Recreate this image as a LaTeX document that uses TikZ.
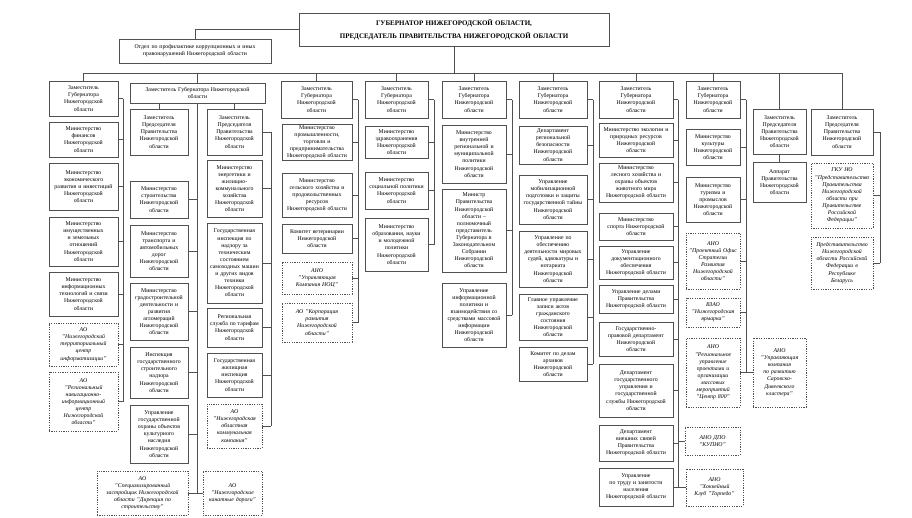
\documentclass[tikz,border=0pt]{standalone}
\usepackage{fontspec}
\setmainfont{Liberation Serif}
\definecolor{linec}{HTML}{505050}
\newcommand\bx[7][sbox]{%
  \pgfmathsetmacro\bxw{#5-#3}%
  \pgfmathsetmacro\bxh{#6-#4}%
  \pgfmathsetmacro\bxt{#5-#3-3}%
  \node[#1, minimum width=\bxw pt, minimum height=\bxh pt, text width=\bxt pt] (#2) at ({(#3+#5)/2},{(#4+#6)/2}) {#7};}
\tikzset{
  sbox/.style={draw=linec, line width=0.8pt, fill=white, align=center, inner sep=1pt, font=\fontsize{5.8}{7.1}\selectfont},
  dbox/.style={sbox, line width=0.9pt, dash pattern=on 1.2pt off 1.2pt, font=\fontsize{5.8}{7.1}\selectfont\itshape},
  conn/.style={draw=linec, line width=0.8pt},
}
\begin{document}
\begin{tikzpicture}[x=1pt,y=-1pt]
\fill[white] (0,0) rectangle (912,517);
\useasboundingbox (0,0) rectangle (912,517);

% top
\bx[sbox, font=\fontsize{7}{13}\selectfont\bfseries]{gov}{299}{13}{609}{46}{ГУБЕРНАТОР НИЖЕГОРОДСКОЙ ОБЛАСТИ,\\ПРЕДСЕДАТЕЛЬ ПРАВИТЕЛЬСТВА НИЖЕГОРОДСКОЙ ОБЛАСТИ}
\bx{anti}{119}{39}{271}{63}{Отдел по профилактике коррупционных и иных\\правонарушений Нижегородской области}

% column 1
\bx{c1h}{49}{81}{118}{116}{Заместитель\\Губернатора\\Нижегородской\\области}
\bx{c1b2}{49}{122}{118}{157}{Министерство\\финансов\\Нижегородской\\области}
\bx{c1b3}{49}{163}{118}{210}{Министерство\\экономического\\развития и инвестиций\\Нижегородской\\области}
\bx{c1b4}{49}{217}{118}{266}{Министерство\\имущественных\\и земельных\\отношений\\Нижегородской\\области}
\bx{c1b5}{49}{272}{118}{316}{Министерство\\информационных\\технологий и связи\\Нижегородской\\области}
\bx[dbox]{c1d1}{49}{323}{118}{366}{АО\\"Нижегородский\\территориальный\\центр\\информатизации"}
\bx[dbox]{c1d2}{49}{372}{118}{431}{АО\\"Региональный\\навигационно-\\информационный\\центр\\Нижегородской\\области"}

% column 2
\bx{c2}{130}{83}{265}{103}{Заместитель Губернатора Нижегородской\\области}
\bx{c2a}{130}{109}{188}{155}{Заместитель\\Председателя\\Правительства\\Нижегородской\\области}
\bx{c2a1}{130}{181}{188}{218}{Министерство\\строительства\\Нижегородской\\области}
\bx{c2a2}{130}{225}{188}{277}{Министерство\\транспорта и\\автомобильных\\дорог\\Нижегородской\\области}
\bx{c2a3}{130}{283}{188}{340}{Министерство\\градостроительной\\деятельности и\\развития\\агломераций\\Нижегородской\\области}
\bx{c2a4}{130}{347}{188}{398}{Инспекция\\государственного\\строительного\\надзора\\Нижегородской\\области}
\bx{c2a5}{130}{405}{188}{463}{Управление\\государственной\\охраны объектов\\культурного\\наследия\\Нижегородской\\области}
\bx[dbox]{c2d1}{97}{471}{188}{515}{АО\\"Специализированный\\застройщик Нижегородской\\области "Дирекция по\\строительству"}
\bx[dbox]{c2d2}{203}{471}{262}{515}{АО\\"Нижегородские\\канатные дороги"}
\bx{c2b}{207}{109}{262}{155}{Заместитель\\Председателя\\Правительства\\Нижегородской\\области}
\bx{c2b1}{207}{160}{262}{217}{Министерство\\энергетики и\\жилищно-\\коммунального\\хозяйства\\Нижегородской\\области}
\bx{c2b2}{207}{223}{262}{303}{Государственная\\инспекция по\\надзору за\\техническим\\состоянием\\самоходных машин\\и других видов\\техники\\Нижегородской\\области}
\bx{c2b3}{207}{308}{262}{347}{Региональная\\служба по тарифам\\Нижегородской\\области}
\bx{c2b4}{207}{353}{262}{397}{Государственная\\жилищная\\инспекция\\Нижегородской\\области}
\bx[dbox]{c2b5}{207}{404}{262}{448}{АО\\"Нижегородская\\областная\\коммунальная\\компания"}

% column 3
\bx{c3h}{281}{81}{352}{118}{Заместитель\\Губернатора\\Нижегородской\\области}
\bx{c3b1}{282}{125}{352}{160}{Министерство\\промышленности,\\торговли и\\предпринимательства\\Нижегородской области}
\bx{c3b2}{282}{173}{352}{217}{Министерство\\сельского хозяйства и\\продовольственных\\ресурсов\\Нижегородской области}
\bx{c3b3}{282}{224}{352}{253}{Комитет ветеринарии\\Нижегородской\\области}
\bx[dbox]{c3d1}{282}{262}{352}{294}{АНО\\"Управляющая\\Компания НОЦ"}
\bx[dbox]{c3d2}{282}{303}{352}{342}{АО "Корпорация\\развития\\Нижегородской\\области"}

% column 4
\bx{c4h}{365}{81}{428}{118}{Заместитель\\Губернатора\\Нижегородской\\области}
\bx{c4b1}{365}{126}{428}{158}{Министерство\\здравоохранения\\Нижегородской\\области}
\bx{c4b2}{365}{172}{428}{209}{Министерство\\социальной политики\\Нижегородской\\области}
\bx{c4b3}{365}{218}{428}{271}{Министерство\\образования, науки\\и молодежной\\политики\\Нижегородской\\области}

% column 5
\bx{c5h}{442}{81}{506}{118}{Заместитель\\Губернатора\\Нижегородской\\области}
\bx{c5b1}{442}{125}{506}{183}{Министерство\\внутренней\\региональной и\\муниципальной\\политики\\Нижегородской\\области}
\bx{c5b2}{442}{189}{506}{272}{Министр\\Правительства\\Нижегородской\\области –\\полномочный\\представитель\\Губернатора в\\Законодательном\\Собрании\\Нижегородской\\области}
\bx{c5b3}{442}{283}{506}{347}{Управление\\информационной\\политики и\\взаимодействия со\\средствами массовой\\информации\\Нижегородской\\области}

% column 6
\bx{c6h}{519}{81}{587}{118}{Заместитель\\Губернатора\\Нижегородской\\области}
\bx{c6b1}{519}{126}{587}{164}{Департамент\\региональной\\безопасности\\Нижегородской\\области}
\bx{c6b2}{519}{175}{587}{224}{Управление\\мобилизационной\\подготовки и защиты\\государственной тайны\\Нижегородской\\области}
\bx{c6b3}{519}{231}{587}{287}{Управление по\\обеспечению\\деятельности мировых\\судей, адвокатуры и\\нотариата\\Нижегородской\\области}
\bx{c6b4}{519}{294}{587}{340}{Главное управление\\записи актов\\гражданского\\состояния\\Нижегородской\\области}
\bx{c6b5}{519}{347}{587}{381}{Комитет по делам\\архивов\\Нижегородской\\области}

% column 7
\bx{c7h}{599}{81}{673}{118}{Заместитель\\Губернатора\\Нижегородской\\области}
\bx{c7b1}{599}{123}{673}{157}{Министерство экологии и\\природных ресурсов\\Нижегородской\\области}
\bx{c7b2}{599}{163}{673}{202}{Министерство\\лесного хозяйства и\\охраны объектов\\животного мира\\Нижегородской области}
\bx{c7b3}{599}{213}{673}{240}{Министерство\\спорта Нижегородской\\области}
\bx{c7b4}{599}{246}{673}{279}{Управление\\документационного\\обеспечения\\Нижегородской области}
\bx{c7b5}{599}{285}{673}{313}{Управление делами\\Правительства\\Нижегородской области}
\bx{c7b6}{599}{322}{673}{356}{Государственно-\\правовой департамент\\Нижегородской\\области}
\bx{c7b7}{599}{364}{673}{417}{Департамент\\государственного\\управления и\\государственной\\службы Нижегородской\\области}
\bx{c7b8}{599}{425}{673}{461}{Департамент\\внешних связей\\Правительства\\Нижегородской области}
\bx{c7b9}{599}{468}{673}{506}{Управление\\по труду и занятости\\населения\\Нижегородской области}

% column 8
\bx{c8h}{686}{81}{740}{118}{Заместитель\\Губернатора\\Нижегородской\\области}
\bx{c8b1}{686}{129}{740}{165}{Министерство\\культуры\\Нижегородской\\области}
\bx{c8b2}{686}{177}{740}{222}{Министерство\\туризма и\\промыслов\\Нижегородской\\области}
\bx[dbox]{c8d1}{686}{233}{740}{289}{АНО\\"Проектный Офис\\Стратегии\\Развития\\Нижегородской\\области"}
\bx[dbox]{c8d2}{686}{298}{740}{327}{ВЗАО\\"Нижегородская\\ярмарка"}
\bx[dbox]{c8d3}{686}{338}{740}{407}{АНО\\"Региональное\\управление\\проектами и\\организации\\массовых\\мероприятий\\"Центр 800"}
\bx[dbox]{sarov}{753}{338}{806}{407}{АНО\\"Управляющая\\компания\\по развитию\\Саровско-\\Дивеевского\\кластера"}
\bx[dbox]{kupno}{685}{427}{740}{455}{АНО ДПО\\"КУПНО"}
\bx[dbox]{torp}{686}{469}{743}{506}{АНО\\"Хоккейный\\Клуб "Торпедо"}

% column 9
\bx{c9h}{753}{109}{806}{154}{Заместитель\\Председателя\\Правительства\\Нижегородской\\области}
\bx{c9a}{753}{162}{806}{202}{Аппарат\\Правительства\\Нижегородской\\области}

% column 10
\bx{c10h}{811}{109}{873}{155}{Заместитель\\Председателя\\Правительства\\Нижегородской\\области}
\bx[dbox]{c10d1}{811}{163}{873}{228}{ГКУ НО\\"Представительство\\Правительства\\Нижегородской\\области при\\Правительстве\\Российской\\Федерации"}
\bx[dbox]{c10d2}{811}{237}{873}{289}{Представительство\\Нижегородской\\области Российской\\Федерации в\\Республике\\Беларусь}

% ---------- connectors ----------
\coordinate (busL) at (83,73);
\coordinate (x1) at (123,0);
\coordinate (x2b) at (271,0);
\coordinate (x3) at (358,0);
\coordinate (x4) at (434,0);
\coordinate (x5) at (512,0);
\coordinate (x6) at (593,0);
\coordinate (x7) at (678,0);
\coordinate (x8) at (746,0);
\coordinate (x10) at (880,0);

\draw[conn] (gov.south) -- (gov.south |- busL);
\draw[conn] (anti.north) |- (gov.west);
\draw[conn] (c1h.north |- busL) -- (c10h.north |- busL);
\foreach \h in {c1h,c2,c3h,c4h,c5h,c6h,c7h,c8h,c9h,c10h}
  \draw[conn] (\h.north) -- (\h.north |- busL);

% col 1
\draw[conn] (c1h.east -| x1) -- (c1d2.east -| x1);
\foreach \n in {c1h,c1b2,c1b3,c1b4,c1b5,c1d1,c1d2}
  \draw[conn] (\n.east) -- (\n.east -| x1);

% col 2
\draw[conn] (c2a.north) -- (c2a.north |- c2.south);
\draw[conn] (c2b.north) -- (c2b.north |- c2.south);
\draw[conn] (c2.south) -- (c2.south |- c2d1.east);
\foreach \n in {c2a1,c2a2,c2a3,c2a4,c2a5,c2d1}
  \draw[conn] (\n.east) -- (\n.east -| c2.south);
\draw[conn] (c2d2.west) -- (c2d2.west -| c2.south);
\draw[conn] (c2b.east -| x2b) -- (c2b5.east -| x2b);
\foreach \n in {c2b,c2b1,c2b2,c2b3,c2b4,c2b5}
  \draw[conn] (\n.east) -- (\n.east -| x2b);

% col 3
\draw[conn] (c3h.east -| x3) -- (c3d2.east -| x3);
\foreach \n in {c3h,c3b1,c3b2,c3b3,c3d1,c3d2}
  \draw[conn] (\n.east) -- (\n.east -| x3);

% col 4
\draw[conn] (c4h.east -| x4) -- (c4b3.east -| x4);
\foreach \n in {c4h,c4b1,c4b2,c4b3}
  \draw[conn] (\n.east) -- (\n.east -| x4);

% col 5
\draw[conn] (c5h.east -| x5) -- (c5b3.east -| x5);
\foreach \n in {c5h,c5b1,c5b2,c5b3}
  \draw[conn] (\n.east) -- (\n.east -| x5);

% col 6
\draw[conn] (c6h.east -| x6) -- (c6b5.east -| x6);
\foreach \n in {c6h,c6b1,c6b2,c6b3,c6b4,c6b5}
  \draw[conn] (\n.east) -- (\n.east -| x6);

% col 7
\draw[conn] (c7h.east -| x7) -- (c7b9.east -| x7);
\foreach \n in {c7h,c7b1,c7b2,c7b3,c7b4,c7b5,c7b6,c7b7,c7b8,c7b9}
  \draw[conn] (\n.east) -- (\n.east -| x7);
\draw[conn] (kupno.west) -- (kupno.west -| x7);
\draw[conn] (torp.west) -- (torp.west -| x7);

% col 8
\draw[conn] (c8h.east -| x8) -- (c8d3.east -| x8);
\foreach \n in {c8h,c8b1,c8b2,c8d1,c8d2,c8d3}
  \draw[conn] (\n.east) -- (\n.east -| x8);
\draw[conn] (sarov.west) -- (sarov.west -| x8);

% col 9
\draw[conn] (c9h.south) -- (c9a.north);

% col 10
\draw[conn] (c10h.east -| x10) -- (c10d2.east -| x10);
\foreach \n in {c10h,c10d1,c10d2}
  \draw[conn] (\n.east) -- (\n.east -| x10);
\end{tikzpicture}
\end{document}
